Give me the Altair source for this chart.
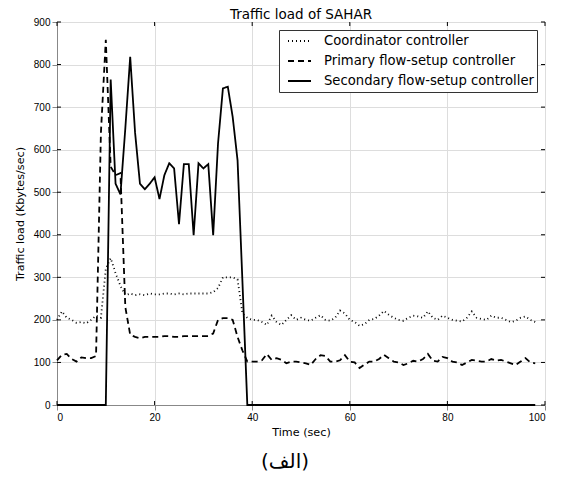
import altair as alt
import pandas as pd

series_names = ["Coordinator controller", "Primary flow-setup controller", "Secondary flow-setup controller"]

time_s = list(range(0, 99))

coordinator = [200, 220, 205, 200, 193, 195, 192, 200, 210, 205,
               320, 345, 310, 280, 258, 262, 258, 260, 258, 262,
               260, 260, 262, 262, 260, 262, 260, 262, 262, 262,
               262, 262, 265, 275, 300, 300, 300, 295, 215, 205,
               200, 200, 195, 188, 210, 195, 188, 200, 211, 200,
               205, 200, 198, 205, 211, 200, 198, 205, 222, 215,
               200, 195, 186, 190, 200, 202, 210, 221, 212, 205,
               200, 198, 205, 210, 208, 205, 220, 205, 200, 210,
               205, 200, 198, 196, 205, 220, 205, 202, 200, 210,
               205, 205, 200, 195, 198, 205, 208, 200, 195]

primary = [105, 118, 120, 108, 102, 112, 110, 110, 115, 640,
           858, 560, 540, 545, 230, 165, 160, 157, 160, 160,
           160, 160, 162, 162, 160, 160, 162, 162, 162, 162,
           162, 162, 168, 200, 204, 204, 200, 160, 128, 102,
           102, 102, 105, 120, 106, 110, 106, 98, 102, 102,
           100, 98, 94, 108, 117, 115, 102, 102, 105, 117,
           102, 100, 87, 95, 102, 102, 108, 118, 110, 102,
           100, 94, 98, 104, 102, 108, 120, 104, 102, 113,
           110, 102, 100, 94, 100, 106, 104, 102, 102, 108,
           104, 106, 102, 98, 94, 102, 110, 100, 98]

secondary = [0, 0, 0, 0, 0, 0, 0, 0, 0, 0,
             0, 765, 520, 495, 650, 818, 640, 520, 507, 520,
             535, 484, 540, 568, 556, 425, 566, 566, 399, 568,
             556, 566, 399, 615, 744, 748, 677, 575, 290, 0,
             0, 0, 0, 0, 0, 0, 0, 0, 0, 0,
             0, 0, 0, 0, 0, 0, 0, 0, 0, 0,
             0, 0, 0, 0, 0, 0, 0, 0, 0, 0,
             0, 0, 0, 0, 0, 0, 0, 0, 0, 0,
             0, 0, 0, 0, 0, 0, 0, 0, 0, 0,
             0, 0, 0, 0, 0, 0, 0, 0, 0]

x_ticks = [0, 20, 40, 60, 80, 100]
y_ticks = [0, 100, 200, 300, 400, 500, 600, 700, 800, 900]
caption = "(الف)"

rows = []
for name, vals in zip(series_names, [coordinator, primary, secondary]):
    for t, v in zip(time_s, vals):
        rows.append({"t": t, "v": v, "series": name})
df = pd.DataFrame(rows)

W, H = 488, 383
FONT = "DejaVu Sans"

x_enc = alt.X("t:Q", scale=alt.Scale(domain=[0, 100], nice=False),
              axis=alt.Axis(values=x_ticks, title="Time (sec)", format="d",
                            titleFont=FONT, titleFontSize=11.2, titleColor="black",
                            titleFontWeight="normal", titlePadding=4))
y_enc = alt.Y("v:Q", scale=alt.Scale(domain=[0, 900], nice=False),
              axis=alt.Axis(values=y_ticks, title="Traffic load (Kbytes/sec)", format="d",
                            titleFont=FONT, titleFontSize=11.2, titleColor="black",
                            titleFontWeight="normal", titlePadding=8))

lines = alt.Chart(df).mark_line(strokeWidth=1.8, color="black").encode(
    x=x_enc,
    y=y_enc,
    strokeDash=alt.StrokeDash(
        "series:N",
        sort=series_names,
        scale=alt.Scale(domain=series_names, range=[[1, 3], [6, 4], [1, 0]]),
        legend=alt.Legend(
            title=None, orient="none", legendX=222, legendY=8,
            symbolType="stroke", symbolSize=529, symbolStrokeWidth=2,
            symbolStrokeColor="black", symbolOffset=5,
            labelFont=FONT, labelFontSize=13.2,
            labelColor="black", labelOffset=12, rowPadding=4, clipHeight=16,
            padding=3, strokeColor="#333", fillColor="white",
            labelLimit=400,
        ),
    ),
)

xt = pd.DataFrame({"t": x_ticks})
yt = pd.DataFrame({"v": y_ticks})
tick_b = alt.Chart(xt).mark_rule(color="black").encode(x=x_enc, y=alt.value(H), y2=alt.value(H - 4))
tick_t = alt.Chart(xt).mark_rule(color="black").encode(x=x_enc, y=alt.value(0), y2=alt.value(4))
tick_l = alt.Chart(yt).mark_rule(color="black").encode(y=y_enc, x=alt.value(0), x2=alt.value(4))
tick_r = alt.Chart(yt).mark_rule(color="black").encode(y=y_enc, x=alt.value(W), x2=alt.value(W - 4))

cap = alt.Chart(pd.DataFrame({"c": [caption]})).mark_text(
    font=FONT, fontSize=20, color="black", baseline="middle", align="center"
).encode(text="c:N", x=alt.value(228), y=alt.value(440))

chart = alt.layer(lines, tick_b, tick_t, tick_l, tick_r, cap).properties(
    width=W, height=H,
    title=alt.TitleParams("Traffic load of SAHAR", font=FONT, fontSize=13.5,
                          fontWeight="normal", color="black", offset=-4, anchor="middle"),
    autosize=alt.AutoSizeParams(type="none"),
    padding={"left": 57, "top": 22, "right": 18, "bottom": 72},
).configure_view(stroke="black", strokeWidth=1).configure_axis(
    labelFont=FONT, labelFontSize=11, labelColor="black",
    grid=True, gridColor="#888", gridDash=[1, 3], gridWidth=1,
    ticks=False, domain=False, labelPadding=5,
).configure(background="white")

chart.save("out.html", embed_options={"renderer": "svg", "actions": False})
